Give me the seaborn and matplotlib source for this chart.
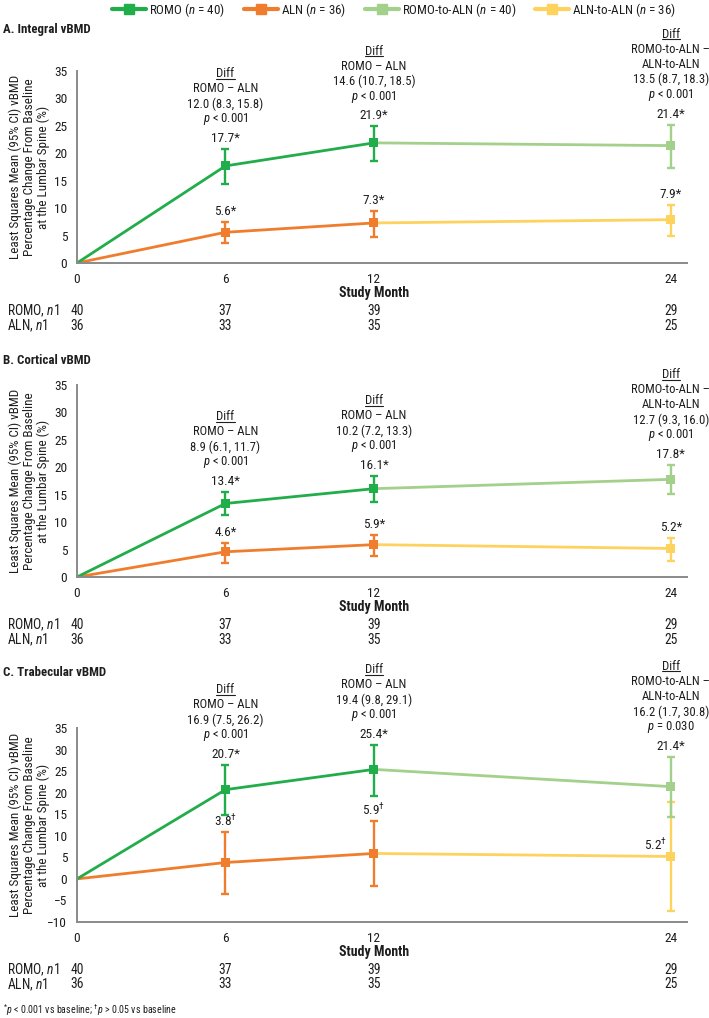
import matplotlib
matplotlib.use("Agg")
import matplotlib.pyplot as plt
from matplotlib import font_manager
from matplotlib.lines import Line2D
import pandas as pd
import seaborn as sns

sns.set_theme(style="white")


def pick_font():
    # a narrow face is closest to the original; otherwise shrink Liberation Sans
    names = {f.name for f in font_manager.fontManager.ttflist}
    for fam in ["Liberation Sans Narrow", "Arial Narrow", "Roboto Condensed"]:
        if fam in names:
            return fam, 1.2
    if "Liberation Sans" in names:
        return "Liberation Sans", 1.0
    return "DejaVu Sans", 0.95


FONT, S = pick_font()
plt.rcParams["font.family"] = [FONT, "DejaVu Sans"]
plt.rcParams["mathtext.fontset"] = "custom"
plt.rcParams["mathtext.rm"] = FONT
plt.rcParams["mathtext.it"] = FONT + ":italic"
plt.rcParams["mathtext.bf"] = FONT + ":bold"

# ---- data -------------------------------------------------------------
months = [0, 6, 12]          # ROMO / ALN phase
ext_month = 24               # transition phase
xticks = [0, 6, 12, 24]

panel_titles = ["A. Integral vBMD", "B. Cortical vBMD", "C. Trabecular vBMD"]

# least squares mean and 95% CI at months 0, 6, 12
romo_mean = [[0, 17.7, 21.9], [0, 13.4, 16.1], [0, 20.7, 25.4]]
romo_lo = [[0, 14.4, 18.6], [0, 11.3, 13.7], [0, 14.8, 19.3]]
romo_hi = [[0, 20.8, 24.9], [0, 15.5, 18.4], [0, 26.4, 31.1]]
aln_mean = [[0, 5.6, 7.3], [0, 4.6, 5.9], [0, 3.8, 5.9]]
aln_lo = [[0, 3.7, 4.8], [0, 2.6, 3.8], [0, -3.5, -1.6]]
aln_hi = [[0, 7.5, 9.5], [0, 6.2, 7.7], [0, 10.9, 13.5]]

# month 24
r2a_mean = [21.4, 17.8, 21.4]
r2a_lo = [17.4, 15.1, 14.4]
r2a_hi = [25.2, 20.4, 28.3]
a2a_mean = [7.9, 5.2, 5.2]
a2a_lo = [5.0, 2.9, -7.4]
a2a_hi = [10.6, 7.1, 17.9]

romo_sig = ["*", "*", "*"]
aln_sig = ["*", "*", r"$^{\dag}$"]

diff_est = [["12.0 (8.3, 15.8)", "14.6 (10.7, 18.5)", "13.5 (8.7, 18.3)"],
            ["8.9 (6.1, 11.7)", "10.2 (7.2, 13.3)", "12.7 (9.3, 16.0)"],
            ["16.9 (7.5, 26.2)", "19.4 (9.8, 29.1)", "16.2 (1.7, 30.8)"]]
diff_p = [["< 0.001", "< 0.001", "< 0.001"],
          ["< 0.001", "< 0.001", "< 0.001"],
          ["< 0.001", "< 0.001", "= 0.030"]]
# comparison wording at month 6, 12, 24
diff_cmp = [["ROMO – ALN"], ["ROMO – ALN"], ["ROMO-to-ALN –", "ALN-to-ALN"]]

romo_n1 = [40, 37, 39, 29]
aln_n1 = [36, 33, 35, 25]

ylims = [(0, 35), (0, 35), (-10, 35)]

groups = ["ROMO", "ALN", "ROMO-to-ALN", "ALN-to-ALN"]
group_n = [40, 36, 40, 36]
colors = {"ROMO": "#22ad4b", "ALN": "#ef7d2d",
          "ROMO-to-ALN": "#a3d08b", "ALN-to-ALN": "#fdd35e"}

# ---- figure -----------------------------------------------------------
W, H = 709, 1018
fig = plt.figure(figsize=(W / 100, H / 100), dpi=100)

axes_px = [(71, 263), (385, 577), (728, 922)]   # top, bottom in pixels
title_px = [30, 360, 672]
left_px, right_px = 77, 687

AX_COL = "#8a8a8a"
TXT = "#1e1e1e"
FS_DIFF = 7.6 * S
FS_VAL = 8.0 * S
FS_YLAB = 7.85 * S
FS_ROW = 8.2 * S
FS_TITLE = 7.7 * S
FS_LEG = 7.8 * S
FS_TICK = 9.6
FS_XLAB = 10
diff_texts = []

for i in range(3):
    top, bot = axes_px[i]
    ax = fig.add_axes([left_px / W, 1 - bot / H, (right_px - left_px) / W, (bot - top) / H])

    # line segments
    rows = []
    for g, xs, ys in [
        ("ROMO-to-ALN", [months[2], ext_month], [romo_mean[i][2], r2a_mean[i]]),
        ("ALN-to-ALN", [months[2], ext_month], [aln_mean[i][2], a2a_mean[i]]),
        ("ALN", months, aln_mean[i]),
        ("ROMO", months, romo_mean[i]),
    ]:
        for x, y in zip(xs, ys):
            rows.append({"group": g, "month": x, "value": y})
    lines = pd.DataFrame(rows)
    sns.lineplot(data=lines, x="month", y="value", hue="group",
                 hue_order=["ROMO-to-ALN", "ALN-to-ALN", "ALN", "ROMO"],
                 palette=colors, estimator=None, sort=False, linewidth=2,
                 legend=False, ax=ax)

    # points with CIs
    prow = []
    for k in (1, 2):
        prow.append(("ALN", months[k], aln_mean[i][k], aln_lo[i][k], aln_hi[i][k], aln_sig[i]))
        prow.append(("ROMO", months[k], romo_mean[i][k], romo_lo[i][k], romo_hi[i][k], romo_sig[i]))
    prow.append(("ALN-to-ALN", ext_month, a2a_mean[i], a2a_lo[i], a2a_hi[i], aln_sig[i]))
    prow.append(("ROMO-to-ALN", ext_month, r2a_mean[i], r2a_lo[i], r2a_hi[i], romo_sig[i]))
    pts = pd.DataFrame(prow, columns=["group", "month", "mean", "lo", "hi", "sig"])

    for _, p in pts.iterrows():
        ax.errorbar(p["month"], p["mean"],
                    yerr=[[p["mean"] - p["lo"]], [p["hi"] - p["mean"]]],
                    fmt="none", ecolor=colors[p["group"]], elinewidth=1.7,
                    capsize=2.6, capthick=1.7, zorder=3)
    sns.scatterplot(data=pts, x="month", y="mean", hue="group", palette=colors,
                    marker="s", s=42, linewidth=0, legend=False, zorder=4, ax=ax)

    # value labels
    for _, p in pts.iterrows():
        label = f"{p['mean']:.1f}{p['sig']}"
        if p["group"] == "ALN-to-ALN" and p["hi"] > r2a_lo[i]:
            # overlapping CIs: put the label to the left of the marker
            ax.annotate(label, xy=(p["month"], p["mean"]), xytext=(-3, 8),
                        textcoords="offset points", ha="right", va="center",
                        fontsize=FS_VAL, color=TXT)
        else:
            ax.annotate(label, xy=(p["month"], p["hi"]), xytext=(0, 7.5),
                        textcoords="offset points", ha="center", va="center",
                        fontsize=FS_VAL, color=TXT)

    # Diff blocks
    tops = [romo_hi[i][1], romo_hi[i][2], r2a_hi[i]]
    for j, x in enumerate(xticks[1:]):
        block = ["Diff"] + diff_cmp[j] + [diff_est[i][j], f"$p$ {diff_p[i][j]}"]
        for n, txt in enumerate(reversed(block)):
            t = ax.annotate(txt, xy=(x, tops[j]), xytext=(0, 21.5 + n * 10.9),
                            textcoords="offset points", ha="center", va="center",
                            fontsize=FS_DIFF, color=TXT)
        diff_texts.append(t)

    # axes styling
    ax.set_xlim(0, 24.65)
    ax.set_ylim(*ylims[i])
    ax.set_xticks(xticks)
    yt = list(range(ylims[i][0], ylims[i][1] + 1, 5))
    ax.set_yticks(yt)
    ax.set_yticklabels([str(v).replace("-", "\u2212") for v in yt])
    sns.despine(ax=ax)
    for s in ("left", "bottom"):
        ax.spines[s].set_color(AX_COL)
        ax.spines[s].set_linewidth(1.4)
    ax.tick_params(axis="both", direction="out", length=4.5, width=1.2,
                   color=AX_COL, labelcolor=TXT, labelsize=FS_TICK, pad=2.5)
    ax.tick_params(axis="x", pad=2.5)
    ax.set_xlabel("")
    ax.set_ylabel("Least Squares Mean (95% CI) vBMD\nPercentage Change From Baseline\nat the Lumbar Spine (%)",
                  fontsize=FS_YLAB, color=TXT, linespacing=1.05)
    ax.yaxis.set_label_coords(-0.045, 0.5)
    ax.grid(False)

    ax.annotate("Study Month", xy=(12, 0), xycoords=("data", "axes fraction"),
                xytext=(0, -21.8), textcoords="offset points", ha="center",
                va="center", fontsize=FS_XLAB, fontweight="bold", color=TXT)

    for lab, vals, dy in [("ROMO, $n1$", romo_n1, -34.6), ("ALN, $n1$", aln_n1, -45)]:
        ax.annotate(lab, xy=(7 / W, 0), xycoords=("figure fraction", "axes fraction"),
                    xytext=(0, dy), textcoords="offset points", ha="left",
                    va="center", fontsize=FS_ROW, color=TXT)
        for x, v in zip(xticks, vals):
            ax.annotate(str(v), xy=(x, 0), xycoords=("data", "axes fraction"),
                        xytext=(0, dy), textcoords="offset points", ha="center",
                        va="center", fontsize=FS_ROW, color=TXT)

    fig.text(3 / W, 1 - title_px[i] / H, panel_titles[i], ha="left", va="center",
             fontsize=FS_TITLE, fontweight="bold", color=TXT)

# legend
handles = [Line2D([], [], color=colors[g], lw=3, marker="s", markersize=6.5)
           for g in groups]
labels = [f"{g} ($n$ = {n})" for g, n in zip(groups, group_n)]
fig.legend(handles, labels, loc="center", bbox_to_anchor=(394 / W, 1 - 10 / H),
           ncol=4, frameon=False, fontsize=FS_LEG, handlelength=2.6,
           handletextpad=0.2, columnspacing=1.5, labelcolor=TXT)

fig.text(3 / W, 1 - 1010 / H,
         r"$^{*}p$ < 0.001 vs baseline; $^{\dag}p$ > 0.05 vs baseline",
         ha="left", va="center", fontsize=6.6 * S ** 0.5, color=TXT)

# underline the "Diff" headers
fig.canvas.draw()
renderer = fig.canvas.get_renderer()
for t in diff_texts:
    bb = t.get_window_extent(renderer)
    yy = (bb.y0 + 1.5) / fig.bbox.height
    fig.add_artist(Line2D([bb.x0 / fig.bbox.width, bb.x1 / fig.bbox.width], [yy, yy],
                          transform=fig.transFigure, color=TXT, lw=0.8))

fig.savefig("out.png", dpi=100)
